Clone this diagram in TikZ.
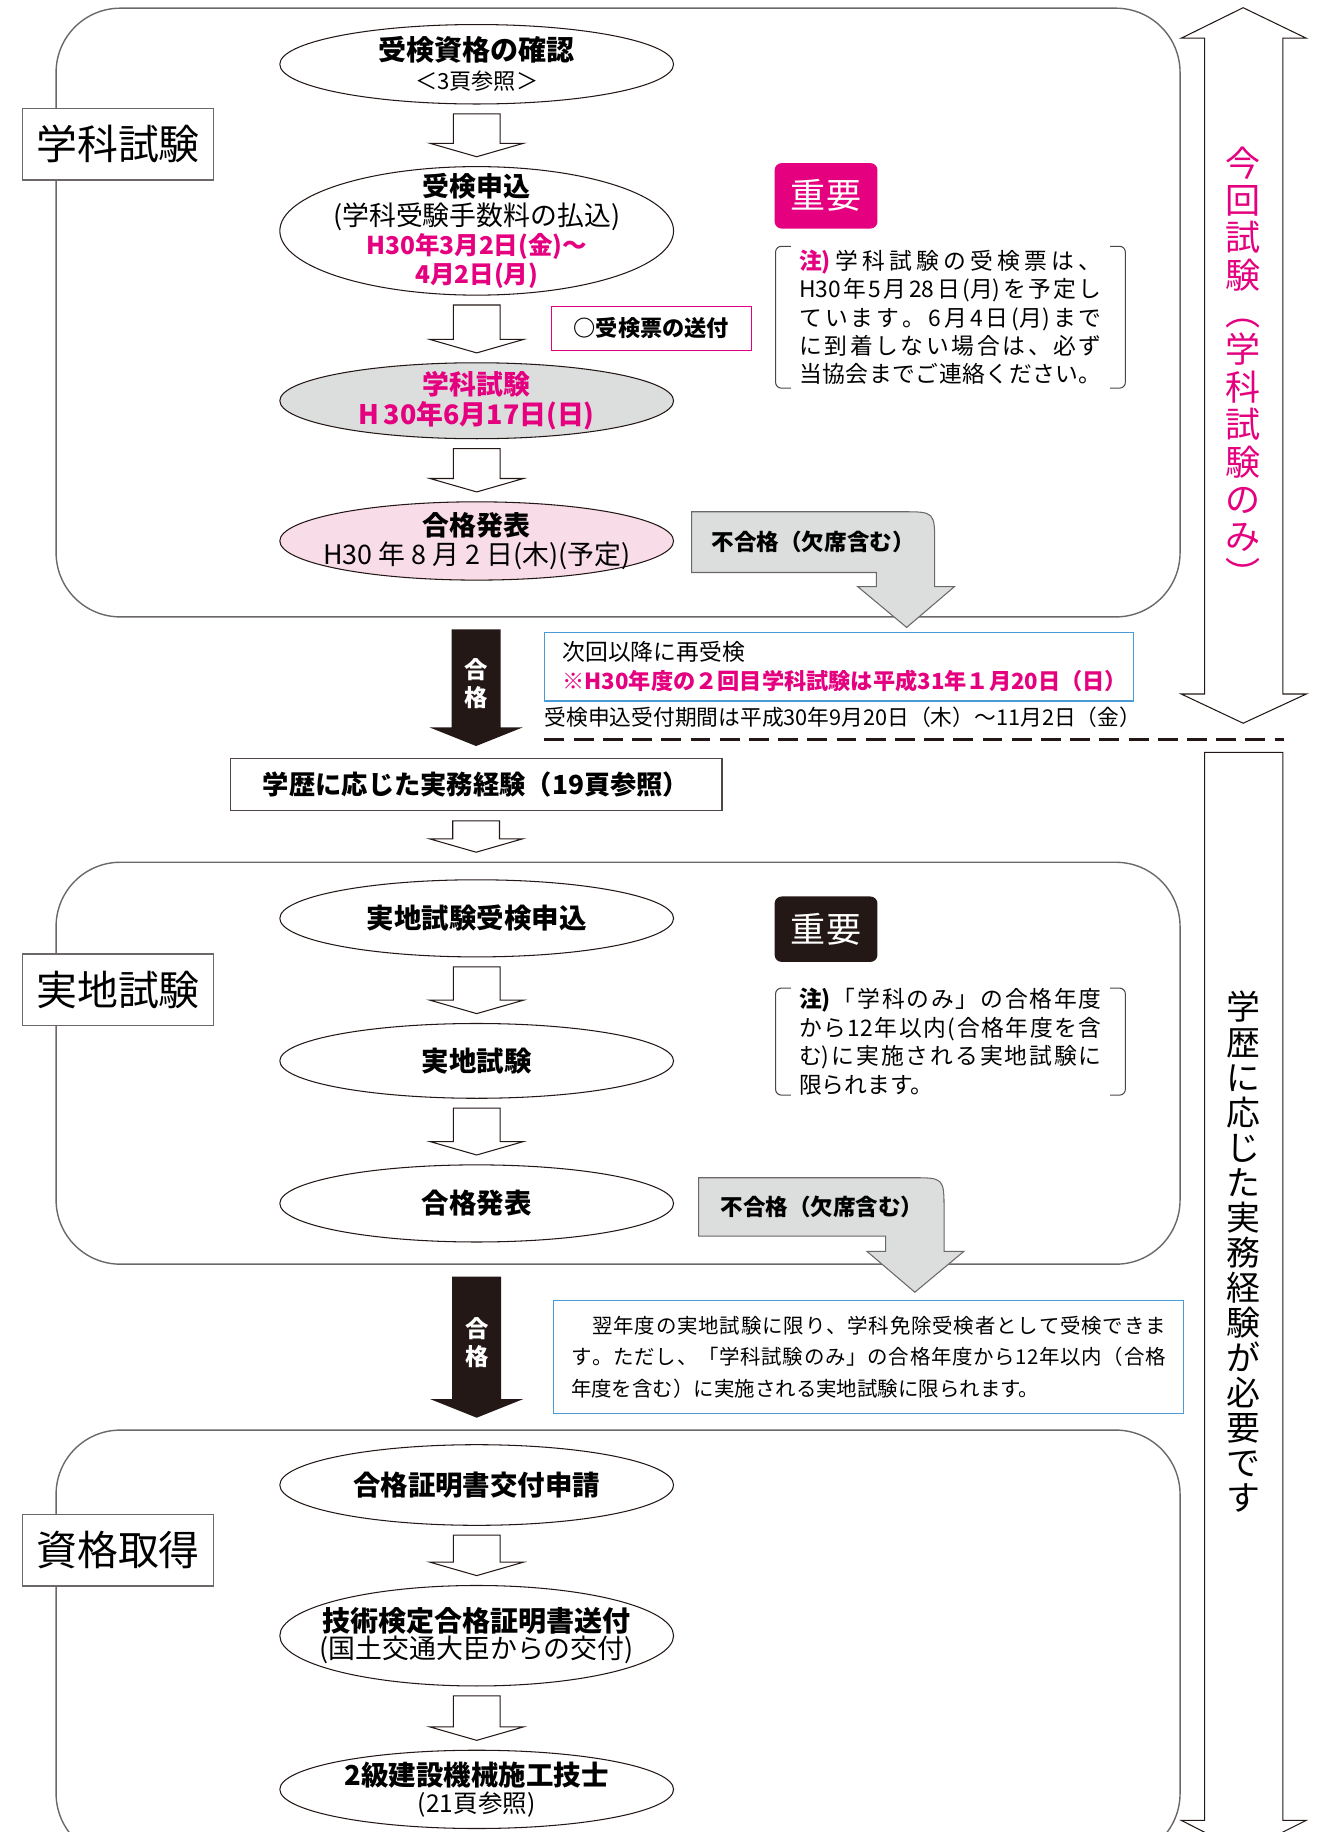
\documentclass[tikz,border=0pt]{standalone}
\usepackage{fontspec}
\setmainfont{Noto Sans CJK JP}
\usetikzlibrary{shapes.geometric,calc}

\definecolor{pinkC}{HTML}{E4007F}
\definecolor{darkC}{HTML}{231815}
\definecolor{grayC}{HTML}{DCDDDD}
\definecolor{rosyC}{HTML}{F8DCE7}
\definecolor{blueC}{HTML}{4A9AD6}
\definecolor{edgeC}{HTML}{6B6867}

\newcommand\fsz[2]{\fontsize{#1}{#2}\selectfont}
\makeatletter
\newcommand\jfill[1]{\@tfor\jchar:=#1\do{\jchar\hskip 0pt plus 1fil}\unskip}
\makeatother
\newcommand\jline[2]{\leavevmode\hbox to #1pt{\jfill{#2}}}

\newcommand\openarrow[2]{%
  \path[openarr] let \p1=(#1.south), \p2=(#2.north) in
    (\x1-20pt,\y1-8pt) -- (\x1+20pt,\y1-8pt) -- (\x1+20pt,\y2+19.5pt) -- (\x1+40pt,\y2+19.5pt)
    -- (\x1,\y2+8pt) -- (\x1-40pt,\y2+19.5pt) -- (\x1-20pt,\y2+19.5pt) -- cycle;}
\newcommand\passarrow[4]{%
  \path[passarr] let \p1=(#1.south), \p2=(#2.north), \p3=(#3) in
    (\x3-21pt,\y1-10pt) -- (\x3+21pt,\y1-10pt) -- (\x3+21pt,\y2+26pt) -- (\x3+40pt,\y2+26pt)
    -- (\x3,\y2+10pt) -- (\x3-40pt,\y2+26pt) -- (\x3-21pt,\y2+26pt) -- cycle
    (\x3,{0.53*\y1+0.47*\y2}) node[passtext] (#4) {合\\格};}

\tikzset{
  secbox/.style={draw=edgeC, line width=1.2pt, rounded corners=55pt, minimum width=962pt},
  tagbox/.style={draw=edgeC, fill=white, line width=1pt, minimum width=164pt, minimum height=61pt, font=\fsz{35}{40}},
  oval/.style={ellipse, draw=darkC, line width=0.9pt, minimum width=337pt, inner sep=0pt},
  ovaltext/.style={align=center, inner sep=0pt, font=\fsz{23}{25}},
  openarr/.style={draw=darkC, fill=white, line width=0.9pt},
  passarr/.style={fill=darkC},
  passtext/.style={text=white, align=center, inner sep=0pt, font=\bfseries\fsz{20}{24}},
  failarr/.style={draw=edgeC, fill=grayC, line width=0.9pt},
  failtext/.style={inner sep=0pt, font=\bfseries\fsz{19.3}{22}},
  keybox/.style={rounded corners=6pt, minimum width=88pt, minimum height=56pt, text=white, font=\fsz{30}{34}},
  notetext/.style={align=left, inner xsep=20pt, inner ysep=0pt, font=\fsz{19.5}{24.3}},
  bracket/.style={draw=darkC!80, line width=0.9pt, rounded corners=5pt},
  infobox/.style={draw=blueC, line width=1pt, align=left},
  sidearr/.style={draw=darkC, fill=white, line width=0.9pt},
  sidetext/.style={align=center, inner sep=0pt},
  dashline/.style={draw=darkC, line width=2.8pt, dash pattern=on 17pt off 8pt}
}

\begin{document}
\begin{tikzpicture}[x=1pt, y=-1pt]
  \useasboundingbox (0,0) rectangle (1135,1568);
  \clip (0,0) rectangle (1135,1568);

  % sections
  \node[secbox, minimum height=521pt] (sec1) at (529,267.5) {};
  \node[secbox, minimum height=344pt] (sec2) at (529,910) {};
  \node[secbox, minimum height=366pt] (sec3) at (529,1407) {};
  \node[tagbox] (lab1) at (101,123.5) {学科試験};
  \node[tagbox] (lab2) at (101,847) {実地試験};
  \node[tagbox] (lab3) at (101,1327) {資格取得};

  % 学科試験
  \node[oval, minimum height=68pt] (chk) at (408,55) {};
  \node[ovaltext] (chkt) at (chk) {{\bfseries\fsz{24}{26}受検資格の確認}\\{\fsz{19}{22}＜3頁参照＞}};
  \node[oval, minimum height=110pt] (apply) at (408,197.6) {};
  \node[ovaltext, font=\fsz{23}{24.7}] (applyt) at (apply) {{\bfseries 受検申込}\\(学科受験手数料の払込)\\{\bfseries\color{pinkC}\fsz{21}{24.7}H30年3月2日(金)〜}\\{\bfseries\color{pinkC}\fsz{21}{24.7}4月2日(月)}};
  \node[oval, fill=grayC, minimum height=65pt] (exam1) at (408,343) {};
  \node[ovaltext, text=pinkC, font=\bfseries\fsz{23}{26}] (exam1t) at (exam1) {学科試験\\H\,30年6月17日(日)};
  \node[oval, fill=rosyC, minimum height=67pt] (res1) at (408,463) {};
  \node[ovaltext, font=\fsz{23}{24.5}] (res1t) at (res1) {{\bfseries 合格発表}\\H30 年 8 月 2 日(木)(予定)};
  \openarrow{chk}{apply}
  \openarrow{apply}{exam1}
  \openarrow{exam1}{res1}

  \node[draw=pinkC, line width=1pt, minimum width=171pt, minimum height=38pt, font=\bfseries\fsz{19}{22}] (ticket) at (557.5,281) {○受検票の送付};

  \node[keybox, fill=pinkC] (key1) at (707,167.6) {重要};
  \node[notetext, minimum height=121pt] (note1) at (813.5,271.5) {%
    \jline{259}{{{\bfseries\color{pinkC}注)}}学科試験の受検票は、}\\
    \jline{259}{{H30}年{5}月{28}日{(月)}を予定し}\\
    \jline{259}{ています。{6}月{4}日{(月)}まで}\\
    \jline{259}{に到着しない場合は、必ず}\\
    \jline{259}{当協会までご連絡ください。}};
  \draw[bracket] ([xshift=13pt]note1.north west) -- (note1.north west) -- (note1.south west) -- ([xshift=13pt]note1.south west);
  \draw[bracket] ([xshift=-13pt]note1.north east) -- (note1.north east) -- (note1.south east) -- ([xshift=-13pt]note1.south east);

  \draw[failarr] (592,490) -- (592,438) -- (772,438) .. controls (800,438) .. (800,466) -- (800,502)
    -- (817,502) -- (776,537) -- (734,502) -- (750,502) -- (750,490) -- cycle;
  \node[failtext] (fail1) at (696,464) {不合格（欠席含む）};

  % 実務経験
  \node[draw=darkC!80, line width=1pt, minimum width=421pt, minimum height=45pt, font=\bfseries\fsz{22.5}{25}] (exp) at (407.5,671.5) {学歴に応じた実務経験（19頁参照）};
  \passarrow{sec1}{exp}{exp}{pass1}

  \node[infobox, text width=473pt, inner xsep=15.5pt, minimum height=59pt, font=\fsz{19.5}{25.3}] (again) at (718,570.5) {次回以降に再受検\\{\bfseries\color{pinkC}\fsz{19}{25.3}※H30年度の２回目学科試験は平成31年１月20日（日）}};
  \node[anchor=west, inner sep=0pt, font=\fsz{18.6}{22}] (period) at (466,613.5) {受検申込受付期間は平成30年9月20日（木）〜11月2日（金）};
  \coordinate (cutL) at (466,633);
  \coordinate (cutR) at (1099,633);
  \draw[dashline] (cutL) -- (cutR);

  \draw[sidearr] (1031,32.7) -- (1011,32.7) -- (1064,6.6) -- (1118,32.7) -- (1098,32.7) -- (1098,594)
    -- (1118,594) -- (1064,619) -- (1011,594) -- (1031,594) -- cycle;
  \node[sidetext, text=pinkC, font=\fsz{30}{32}] (now) at (1064,314) {今\\回\\試\\験\\︵\\学\\科\\試\\験\\の\\み\\︶};
  \draw[sidearr] (1031,644) -- (1098,644) -- (1098,1558) -- (1118,1558) -- (1064,1585) -- (1011,1558) -- (1031,1558) -- cycle;
  \node[sidetext, font=\fsz{29}{30}] (need) at (1064,1071.5) {学\\歴\\に\\応\\じ\\た\\実\\務\\経\\験\\が\\必\\要\\で\\す};

  % 実地試験
  \node[oval, minimum height=66pt] (apply2) at (408,786) {};
  \node[ovaltext, font=\bfseries\fsz{23.5}{26}] (apply2t) at (apply2) {実地試験受検申込};
  \node[oval, minimum height=64pt] (exam2) at (408,908) {};
  \node[ovaltext, font=\bfseries\fsz{23.5}{26}] (exam2t) at (exam2) {実地試験};
  \node[oval, minimum height=66pt] (res2) at (408,1030) {};
  \node[ovaltext, font=\bfseries\fsz{23.5}{26}] (res2t) at (res2) {合格発表};
  \openarrow{exp}{sec2}
  \openarrow{apply2}{exam2}
  \openarrow{exam2}{res2}

  \node[keybox, fill=darkC] (key2) at (707,795.3) {重要};
  \node[notetext, minimum height=89pt] (note2) at (813.5,891.5) {%
    \jline{259}{{{\bfseries 注)}}「学科のみ」の合格年度}\\
    \jline{259}{から{12}年以内{(}合格年度を含}\\
    \jline{259}{{む)}に実施される実地試験に}\\
    限られます。};
  \draw[bracket] ([xshift=13pt]note2.north west) -- (note2.north west) -- (note2.south west) -- ([xshift=13pt]note2.south west);
  \draw[bracket] ([xshift=-13pt]note2.north east) -- (note2.north east) -- (note2.south east) -- ([xshift=-13pt]note2.south east);

  \draw[failarr] (598,1058) -- (598,1008) -- (780,1008) .. controls (808,1008) .. (808,1036) -- (808,1071)
    -- (825,1071) -- (783,1106) -- (742,1071) -- (758,1071) -- (758,1058) -- cycle;
  \node[failtext] (fail2) at (703.5,1033) {不合格（欠席含む）};
  \passarrow{sec2}{sec3}{res2}{pass2}

  \node[infobox, text width=509pt, inner xsep=14.8pt, minimum height=97pt, font=\fsz{17.5}{27}] (exempt) at (743.3,1161.5) {%
    \jline{509}{　翌年度の実地試験に限り、学科免除受検者として受検できま}\\
    \jline{509}{す。ただし、「学科試験のみ」の合格年度から{12}年以内（合格}\\
    年度を含む）に実施される実地試験に限られます。};

  % 資格取得
  \node[oval, minimum height=69pt] (cert) at (408,1271) {};
  \node[ovaltext, font=\bfseries\fsz{23.5}{26}] (certt) at (cert) {合格証明書交付申請};
  \node[oval, minimum height=86pt] (send) at (408,1400) {};
  \node[ovaltext, font=\fsz{23}{23}] (sendt) at (send) {{\bfseries\fsz{24}{23}技術検定合格証明書送付}\\(国土交通大臣からの交付)};
  \node[oval, minimum height=67pt] (fin) at (408,1531.5) {};
  \node[ovaltext, font=\fsz{21}{23}] (fint) at (fin) {{\bfseries\fsz{23.5}{23}2級建設機械施工技士}\\(21頁参照)};
  \openarrow{cert}{send}
  \openarrow{send}{fin}
\end{tikzpicture}
\end{document}
